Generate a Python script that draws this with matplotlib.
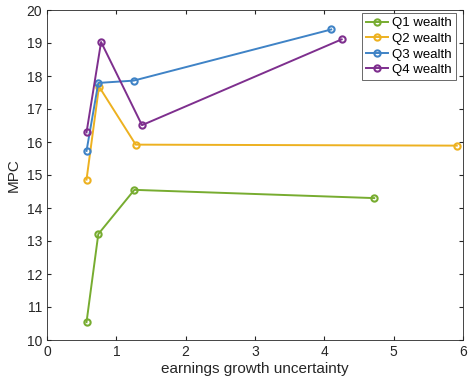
import matplotlib
matplotlib.use("Agg")
import matplotlib.pyplot as plt

plt.rcParams['font.family'] = ['Liberation Sans', 'DejaVu Sans']

labels = ["Q1 wealth", "Q2 wealth", "Q3 wealth", "Q4 wealth"]
colors = ["#77AC30", "#EDB120", "#3F83C6", "#7E2F8E"]
x_q1 = [0.57, 0.74, 1.26, 4.72]
y_q1 = [10.54, 13.21, 14.55, 14.30]
x_q2 = [0.57, 0.75, 1.28, 5.91]
y_q2 = [14.86, 17.68, 15.92, 15.89]
x_q3 = [0.57, 0.74, 1.25, 4.10]
y_q3 = [15.73, 17.79, 17.86, 19.41]
x_q4 = [0.57, 0.78, 1.37, 4.25]
y_q4 = [16.29, 19.03, 16.51, 19.11]

xs = [x_q1, x_q2, x_q3, x_q4]
ys = [y_q1, y_q2, y_q3, y_q4]

fig = plt.figure(figsize=(4.69, 3.79), dpi=100)
ax = fig.add_axes([47/469, 39/379, 416/469, 330/379])
for x, y, c, l in zip(xs, ys, colors, labels):
    ax.plot(x, y, color=c, lw=1.4, marker='o', markersize=4.5, markerfacecolor='none',
            markeredgewidth=1.5, label=l)

ax.set_xlim(0, 6)
ax.set_ylim(10, 20)
ax.set_xticks(range(0, 7))
ax.set_yticks(range(10, 21))
ax.tick_params(direction='in', length=3, labelsize=10, colors='#262626', top=True, right=True)
for s in ax.spines.values():
    s.set_color('#262626')
    s.set_linewidth(0.6)
ax.set_xlabel("earnings growth uncertainty", fontsize=11, labelpad=2, color='#262626')
ax.set_ylabel("MPC", fontsize=11, labelpad=4, color='#262626')
leg = ax.legend(loc='upper right', fontsize=9.5, frameon=True, fancybox=False,
                edgecolor='#262626', handlelength=1.7, borderpad=0.3, borderaxespad=0,
                labelspacing=0.25, handletextpad=0.3, bbox_to_anchor=(0.983, 0.99))
leg.get_frame().set_linewidth(0.6)
fig.savefig("out.png", dpi=100)
